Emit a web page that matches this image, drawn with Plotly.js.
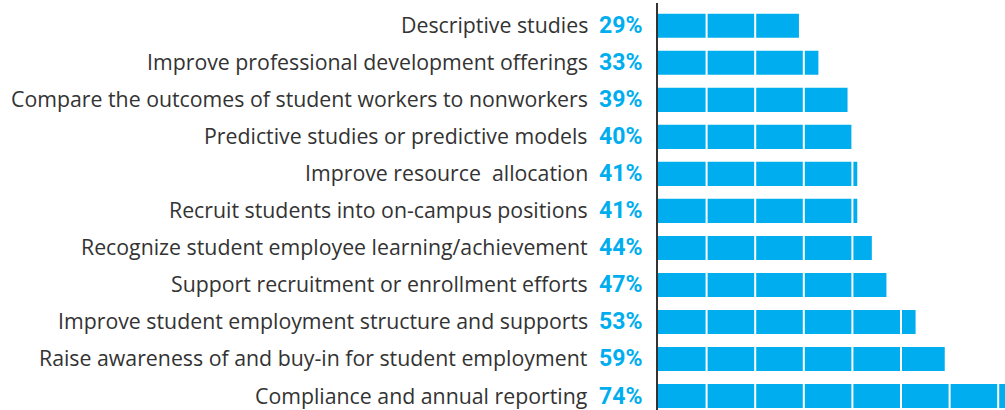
<!DOCTYPE html>
<html>
<head>
<meta charset="utf-8">
<script src="https://cdn.plot.ly/plotly-3.0.1.min.js"></script>
<style>html,body{margin:0;padding:0;background:#fff;}#chart{width:1005px;height:410px;}</style>
</head>
<body>
<div id="chart"></div>
<script>
const categories = [
  "Descriptive studies",
  "Improve professional development offerings",
  "Compare the outcomes of student workers to nonworkers",
  "Predictive studies or predictive models",
  "Improve resource\u00a0 allocation",
  "Recruit students into on-campus positions",
  "Recognize student employee learning/achievement",
  "Support recruitment or enrollment efforts",
  "Improve student employment structure and supports",
  "Raise awareness of and buy-in for student employment",
  "Compliance and annual reporting"
];
const percentValues = [29, 33, 39, 40, 41, 41, 44, 47, 53, 59, 74];
const gridTicks = [10, 20, 30, 40, 50, 60, 70];

const BLUE = "#00AEEF";

const trace = {
  type: "bar",
  orientation: "h",
  y: categories,
  x: percentValues,
  width: 0.65,
  marker: {color: BLUE, line: {width: 0}},
  hoverinfo: "none"
};

const annotations = [];
categories.forEach((c, i) => {
  annotations.push({
    xref: "paper", yref: "y", x: 0, y: c, xanchor: "right", yanchor: "middle",
    xshift: -68, yshift: 1, showarrow: false, text: c,
    font: {family: "Open Sans, sans-serif", size: 21.3, color: "#333333"}
  });
  annotations.push({
    xref: "paper", yref: "y", x: 0, y: c, xanchor: "right", yanchor: "middle",
    xshift: -14, showarrow: false, text: "<b>" + percentValues[i] + "%</b>",
    font: {family: "Roboto, sans-serif", size: 23, color: BLUE}
  });
});

const shapes = gridTicks.map(t => ({
  type: "line", xref: "x", yref: "paper", x0: t, x1: t, y0: 0, y1: 1,
  line: {color: "#ffffff", width: 2}, layer: "above"
}));

const layout = {
  width: 1005, height: 410,
  margin: {l: 658, r: 0, t: 3, b: 0},
  paper_bgcolor: "#ffffff", plot_bgcolor: "#ffffff",
  showlegend: false,
  bargap: 0.35,
  xaxis: {range: [0, 71.4], showgrid: false, zeroline: false, showticklabels: false, showline: false, fixedrange: true},
  yaxis: {type: "category", range: [10.378, -0.616], autorange: false, showgrid: false, zeroline: false,
          showticklabels: false, showline: true, linecolor: "#333333", linewidth: 2, ticks: "", fixedrange: true},
  annotations: annotations,
  shapes: shapes
};

Plotly.newPlot("chart", [trace], layout, {displayModeBar: false, staticPlot: true});
</script>
</body>
</html>
